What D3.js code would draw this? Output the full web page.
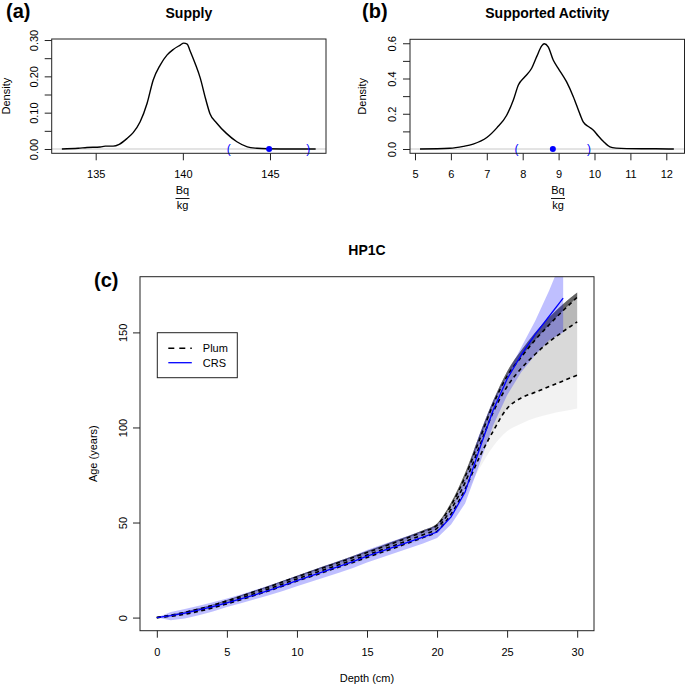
<!DOCTYPE html>
<html>
<head>
<meta charset="utf-8">
<script src="https://cdn.jsdelivr.net/npm/d3@7"></script>
<style>
  body { margin: 0; background: #fff; }
  svg { display: block; font-family: "Liberation Sans", Arial, Helvetica, sans-serif; }
</style>
</head>
<body>
<div id="chart"></div>
<script>

// (a) Supply density
const supplyX = [133.06, 134.0, 134.5, 135.25, 135.55, 136.0, 136.35, 136.8, 137.15, 137.55, 137.95, 138.3, 138.7, 139.1, 139.45, 139.85, 140.05, 140.25, 140.4, 140.7, 141.0, 141.3, 141.55, 141.95, 142.5, 143.1, 143.7, 144.25, 144.85, 146.0, 147.62];
const supplyY = [0, 0.002, 0.004, 0.0055, 0.008, 0.008, 0.013, 0.029, 0.045, 0.075, 0.126, 0.19, 0.231, 0.259, 0.274, 0.286, 0.2915, 0.289, 0.272, 0.236, 0.195, 0.139, 0.098, 0.071, 0.043, 0.020, 0.006, 0.002, 0.0005, 0, 0];
const supplyInterval = [142.64, 144.95, 147.2];
const supplyTicksX = [135, 140, 145];
const supplyTicksY = [0, 0.05, 0.10, 0.15, 0.20, 0.25, 0.30];
const supplyLabelsY = [0, 0.10, 0.20, 0.30];

// (b) Supported activity density
const activityX = [5.14, 5.97, 6.35, 6.62, 7.0, 7.28, 7.55, 7.74, 7.88, 8.06, 8.25, 8.39, 8.53, 8.6, 8.71, 8.85, 8.99, 9.22, 9.41, 9.6, 9.69, 9.85, 9.97, 10.1, 10.25, 10.43, 10.6, 10.9, 11.7, 12.21];
const activityY = [0, 0.004, 0.015, 0.028, 0.065, 0.12, 0.19, 0.278, 0.363, 0.41, 0.458, 0.524, 0.585, 0.597, 0.58, 0.505, 0.458, 0.382, 0.297, 0.195, 0.152, 0.125, 0.107, 0.075, 0.042, 0.012, 0.005, 0.002, 0.001, 0];
const activityInterval = [7.83, 8.84, 9.85];
const activityTicksX = [5, 6, 7, 8, 9, 10, 11, 12];
const activityTicksY = [0, 0.1, 0.2, 0.3, 0.4, 0.5, 0.6];
const activityLabelsY = [0, 0.2, 0.4, 0.6];

// (c) HP1C age-depth
const depth = [0, 1, 2, 3, 4, 5, 6, 7, 8, 9, 10, 11, 12, 13, 14, 15, 16, 17, 18, 19, 20, 21, 22, 23, 24, 25, 26, 27, 28, 29, 30];
const plumMin  = [0, 0.5, 1.5, 2.9, 4.6, 6.7, 8.8, 11.1, 13.5, 16.0, 18.5, 20.9, 23.4, 25.8, 28.2, 30.8, 33.4, 35.9, 38.5, 41.2, 44.3, 52.5, 64, 78, 90, 98, 102, 105, 107, 108.5, 110];
const plumLow  = [0, 0.7, 1.8, 3.3, 5.1, 7.2, 9.4, 11.7, 14.1, 16.6, 19.2, 21.6, 24.1, 26.6, 29.0, 31.6, 34.2, 36.7, 39.4, 42.1, 45.4, 54.5, 67.5, 84, 98, 110, 115.5, 118.5, 121.5, 124.5, 127.5];
const plumMid  = [0, 1.0, 2.3, 3.9, 5.8, 8.0, 10.3, 12.7, 15.1, 17.7, 20.3, 22.8, 25.3, 27.8, 30.3, 32.9, 35.5, 38.1, 40.8, 43.6, 47.0, 57.0, 71.0, 89.5, 108, 121.5, 131, 138.5, 145, 150.5, 155.5];
const plumHigh = [0, 1.3, 2.8, 4.5, 6.5, 8.8, 11.2, 13.7, 16.1, 18.8, 21.4, 24.0, 26.5, 29.0, 31.6, 34.2, 36.8, 39.5, 42.2, 45.1, 48.6, 59.0, 74.0, 93.0, 112, 127, 137, 146, 154, 161.5, 168.5];
const plumMax  = [0, 1.5, 3.1, 4.9, 6.9, 9.2, 11.7, 14.2, 16.7, 19.4, 22.0, 24.6, 27.2, 29.8, 32.4, 35.0, 37.7, 40.4, 43.1, 46.0, 49.5, 60.5, 76, 95.5, 114, 129.5, 140.5, 150, 158, 165, 171];

const crsDepth = [0, 1, 2, 3, 4, 5, 6, 7, 8, 9, 10, 11, 12, 13, 14, 15, 16, 17, 18, 19, 20, 21, 22, 23, 24, 25, 26, 27, 28, 29];
const crsAge  = [0, 1.0, 2.4, 4.0, 5.8, 7.7, 9.8, 12.0, 14.3, 16.8, 19.4, 21.9, 24.4, 26.9, 29.4, 32.3, 34.8, 37.3, 39.8, 42.3, 45.0, 53, 66, 88, 109, 125.5, 138, 149, 158.5, 168];
const crsLow  = [0, -1.4, -0.5, 1.2, 3.2, 5.6, 7.6, 9.6, 11.8, 14.0, 16.5, 18.8, 21.2, 23.6, 26.1, 29.0, 31.5, 34.0, 36.5, 39.0, 41.8, 49, 60, 80, 101, 117, 129, 138, 146, 150];
const crsHigh = [0, 3.0, 4.5, 6.2, 8.1, 10.0, 12.2, 14.5, 16.9, 19.4, 22.0, 24.6, 27.2, 29.8, 32.4, 35.6, 38.2, 40.7, 43.2, 45.7, 48.6, 57, 73, 96, 114, 128, 142, 156, 172, 190];

const depthTicks = [0, 5, 10, 15, 20, 25, 30];
const ageTicks = [0, 50, 100, 150];
const legendLabels = ["Plum", "CRS"];


function drawChart() {

    // 1. Canvas
    const width = 685, height = 685;
    const svg = d3.select("#chart")
        .append("svg")
        .attr("width", width)
        .attr("height", height);

    const ink = "#222";
    const fontSize = 11;

    // 2. Density panels (a) and (b)
    function densityPanel(opt) {
        const { frame } = opt;
        const x = d3.scaleLinear().domain(opt.xDomain).range([frame.left, frame.right]);
        const y = d3.scaleLinear().domain(opt.yDomain).range([frame.bottom, frame.top]);
        const g = svg.append("g");

        // zero line
        g.append("line")
            .attr("x1", frame.left).attr("x2", frame.right)
            .attr("y1", y(0)).attr("y2", y(0))
            .attr("stroke", "#c8c8c8")
            .attr("stroke-width", 1);

        const pts = opt.xs.map((v, i) => [v, opt.ys[i]]);
        g.append("path")
            .datum(pts)
            .attr("fill", "none")
            .attr("stroke", "#000")
            .attr("stroke-width", 1.4)
            .attr("d", d3.line().x(d => x(d[0])).y(d => y(d[1])).curve(d3.curveMonotoneX));

        // interval marks
        const [lo, mid, hi] = opt.interval;
        g.append("text").attr("x", x(lo)).attr("y", y(0) + 4)
            .attr("text-anchor", "middle").attr("fill", "blue")
            .style("font-size", "12px").text("(");
        g.append("text").attr("x", x(hi)).attr("y", y(0) + 4)
            .attr("text-anchor", "middle").attr("fill", "blue")
            .style("font-size", "12px").text(")");
        g.append("circle").attr("cx", x(mid)).attr("cy", y(0)).attr("r", 3)
            .attr("fill", "blue");

        // frame
        g.append("rect")
            .attr("x", frame.left).attr("y", frame.top)
            .attr("width", frame.right - frame.left)
            .attr("height", frame.bottom - frame.top)
            .attr("fill", "none").attr("stroke", ink).attr("stroke-width", 1);

        // x axis
        g.append("g")
            .attr("transform", `translate(0,${frame.bottom})`)
            .call(d3.axisBottom(x).tickValues(opt.xTicks).tickSize(7).tickSizeOuter(0).tickFormat(d3.format("d")))
            .call(a => a.select(".domain").remove())
            .call(a => a.selectAll("line").attr("stroke", ink))
            .call(a => a.selectAll("text").attr("y", 24.7).attr("dy", 0)
                .attr("fill", "#000").style("font-size", fontSize + "px").style("font-family", "inherit"));

        // y axis
        g.append("g")
            .attr("transform", `translate(${frame.left},0)`)
            .call(d3.axisLeft(y).tickValues(opt.yTicks).tickSize(7).tickSizeOuter(0)
                .tickFormat(d => opt.yLabels.some(v => Math.abs(v - d) < 1e-9) ? d3.format(opt.yFormat)(d) : ""))
            .call(a => a.select(".domain").remove())
            .call(a => a.selectAll("line").attr("stroke", ink))
            .call(a => a.selectAll("text")
                .attr("x", 0).attr("dy", 0)
                .attr("transform", "translate(-14,0) rotate(-90)")
                .attr("text-anchor", "middle")
                .attr("fill", "#000").style("font-size", fontSize + "px").style("font-family", "inherit"));

        // y title
        svg.append("text")
            .attr("transform", `translate(${opt.yTitleX},${(frame.top + frame.bottom) / 2}) rotate(-90)`)
            .attr("text-anchor", "middle")
            .style("font-size", fontSize + "px")
            .text("Density");

        // x title as a fraction Bq / kg
        svg.append("text").attr("x", opt.fracX).attr("y", 194)
            .attr("text-anchor", "middle").style("font-size", fontSize + "px").text("Bq");
        svg.append("line").attr("x1", opt.fracX - 7).attr("x2", opt.fracX + 7)
            .attr("y1", 198.5).attr("y2", 198.5).attr("stroke", "#000").attr("stroke-width", 0.9);
        svg.append("text").attr("x", opt.fracX).attr("y", 209)
            .attr("text-anchor", "middle").style("font-size", fontSize + "px").text("kg");

        // title and tag
        svg.append("text").attr("x", (frame.left + frame.right) / 2).attr("y", 18)
            .attr("text-anchor", "middle").style("font-size", "14px").style("font-weight", "bold")
            .text(opt.title);
        svg.append("text").attr("x", opt.tagX).attr("y", 18)
            .style("font-size", "20px").style("font-weight", "bold")
            .text(opt.tag);
    }

    densityPanel({
        frame: { left: 51.7, right: 326, top: 39, bottom: 153.3 },
        xDomain: [132.476, 148.213],
        yDomain: [-0.01184, 0.3028],
        xs: supplyX, ys: supplyY,
        interval: supplyInterval,
        xTicks: supplyTicksX, yTicks: supplyTicksY, yLabels: supplyLabelsY, yFormat: ".2f",
        yTitleX: 9.5, fracX: 182.5,
        title: "Supply", tag: "(a)", tagX: 6
    });

    densityPanel({
        frame: { left: 410, right: 684.5, top: 39.3, bottom: 153.3 },
        xDomain: [4.861, 12.507],
        yDomain: [-0.0244, 0.6225],
        xs: activityX, ys: activityY,
        interval: activityInterval,
        xTicks: activityTicksX, yTicks: activityTicksY, yLabels: activityLabelsY, yFormat: ".1f",
        yTitleX: 366, fracX: 558,
        title: "Supported Activity", tag: "(b)", tagX: 362
    });


    // 3. Age-depth panel (c)
    const frame = { left: 140, right: 594, top: 276.7, bottom: 630.7 };
    const x = d3.scaleLinear().domain([-1.2, 31.2]).range([frame.left, frame.right]);
    const y = d3.scaleLinear().domain([-6.9, 179.3]).range([frame.bottom, frame.top]);

    svg.append("defs").append("clipPath").attr("id", "clipC")
        .append("rect")
        .attr("x", frame.left).attr("y", frame.top)
        .attr("width", frame.right - frame.left).attr("height", frame.bottom - frame.top);

    const plot = svg.append("g").attr("clip-path", "url(#clipC)");

    const band = (lowArr, highArr) => d3.area()
        .x((d, i) => x(depth[i]))
        .y0((d, i) => y(lowArr[i]))
        .y1((d, i) => y(highArr[i]))
        .curve(d3.curveMonotoneX);

    // Plum model cloud, darker towards the upper tail
    const cloudLayers = [
        { low: plumMin, op: 0.05 },
        { low: plumLow, op: 0.10 },
        { low: plumMid, op: 0.15 },
        { low: plumHigh, op: 0.45 },
    ];
    cloudLayers.forEach(l => {
        plot.append("path")
            .datum(depth)
            .attr("fill", "#000")
            .attr("fill-opacity", l.op)
            .attr("d", band(l.low, plumMax));
    });

    // CRS uncertainty band
    plot.append("path")
        .datum(crsDepth)
        .attr("fill", "blue")
        .attr("fill-opacity", 0.25)
        .attr("d", d3.area()
            .x((d, i) => x(crsDepth[i]))
            .y0((d, i) => y(crsLow[i]))
            .y1((d, i) => y(crsHigh[i])));

    // Plum dashed lines
    [plumLow, plumMid, plumHigh].forEach(arr => {
        plot.append("path")
            .datum(arr)
            .attr("fill", "none")
            .attr("stroke", "#000")
            .attr("stroke-width", 1.6)
            .attr("stroke-dasharray", "4,3.5")
            .attr("d", d3.line().x((d, i) => x(depth[i])).y(d => y(d)).curve(d3.curveMonotoneX));
    });

    // CRS line
    plot.append("path")
        .datum(crsAge)
        .attr("fill", "none")
        .attr("stroke", "blue")
        .attr("stroke-width", 1.3)
        .attr("d", d3.line().x((d, i) => x(crsDepth[i])).y(d => y(d)));

    // frame
    svg.append("rect")
        .attr("x", frame.left).attr("y", frame.top)
        .attr("width", frame.right - frame.left)
        .attr("height", frame.bottom - frame.top)
        .attr("fill", "none").attr("stroke", ink).attr("stroke-width", 1);

    // axes
    svg.append("g")
        .attr("transform", `translate(0,${frame.bottom})`)
        .call(d3.axisBottom(x).tickValues(depthTicks).tickSize(7).tickSizeOuter(0))
        .call(a => a.select(".domain").remove())
        .call(a => a.selectAll("line").attr("stroke", ink))
        .call(a => a.selectAll("text").attr("y", 25.8).attr("dy", 0)
            .attr("fill", "#000").style("font-size", fontSize + "px").style("font-family", "inherit"));

    svg.append("g")
        .attr("transform", `translate(${frame.left},0)`)
        .call(d3.axisLeft(y).tickValues(ageTicks).tickSize(7).tickSizeOuter(0))
        .call(a => a.select(".domain").remove())
        .call(a => a.selectAll("line").attr("stroke", ink))
        .call(a => a.selectAll("text")
            .attr("x", 0).attr("dy", 0)
            .attr("transform", "translate(-13,0) rotate(-90)")
            .attr("text-anchor", "middle")
            .attr("fill", "#000").style("font-size", fontSize + "px").style("font-family", "inherit"));

    svg.append("text")
        .attr("x", (frame.left + frame.right) / 2).attr("y", 682)
        .attr("text-anchor", "middle").style("font-size", fontSize + "px")
        .text("Depth (cm)");

    svg.append("text")
        .attr("transform", `translate(96.5,${(frame.top + frame.bottom) / 2}) rotate(-90)`)
        .attr("text-anchor", "middle").style("font-size", fontSize + "px")
        .text("Age (years)");

    svg.append("text")
        .attr("x", (frame.left + frame.right) / 2).attr("y", 255)
        .attr("text-anchor", "middle").style("font-size", "14px").style("font-weight", "bold")
        .text("HP1C");

    svg.append("text")
        .attr("x", 94).attr("y", 287)
        .style("font-size", "20px").style("font-weight", "bold")
        .text("(c)");

    // 4. Legend
    const legend = svg.append("g").attr("transform", "translate(157.3,332.7)");
    legend.append("rect")
        .attr("width", 80).attr("height", 45)
        .attr("fill", "#fff").attr("stroke", ink).attr("stroke-width", 1);

    const legendStyles = [
        { stroke: "#000", dash: "6,5", width: 1.6 },
        { stroke: "blue", dash: null, width: 1.3 },
    ];
    legendLabels.forEach((label, i) => {
        const yy = 15.6 + i * 14.4;
        legend.append("line")
            .attr("x1", 11).attr("x2", 34.5)
            .attr("y1", yy).attr("y2", yy)
            .attr("stroke", legendStyles[i].stroke)
            .attr("stroke-width", legendStyles[i].width)
            .attr("stroke-dasharray", legendStyles[i].dash);
        legend.append("text")
            .attr("x", 45.5).attr("y", yy + 4)
            .style("font-size", fontSize + "px")
            .text(label);
    });
}

drawChart();
</script>
</body>
</html>
